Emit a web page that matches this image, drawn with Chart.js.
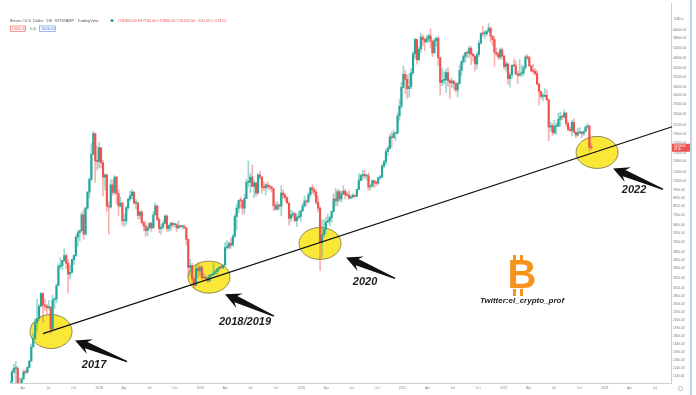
<!DOCTYPE html>
<html>
<head>
<meta charset="utf-8">
<script src="https://cdn.jsdelivr.net/npm/chart.js@4.4.0/dist/chart.umd.min.js"></script>
<style>
html, body { margin: 0; padding: 0; background: #fff; }
</style>
</head>
<body>
<canvas id="btc" width="696" height="395"></canvas>
<script>
// BTCUSD weekly candles (BITSTAMP), first candle = week of 13 Feb 2017
var firstWeekDay = 43;   // day of year 2017 of the first weekly candle
var firstOpen = 995;

var close2017 = [1050,1180,1230,1230,1020,965,1090,1180,1175,1245,1340,1580,1750,2100,2200,2540,2950,2580,2550,2500,2520,1950,2740,2770,3240,4050,4080,4350,4600,4200,3700,3780,4390,4600,5700,6000,6150,7400,5900,8000,9650,11200,15000,19100,13900,13800];
var high2017 = [1060,1210,1290,1330,1260,1100,1100,1210,1210,1260,1350,1640,1850,2200,2760,2600,2980,2990,2770,2600,2720,2540,2900,2820,3300,4180,4480,4350,4980,4700,4400,4120,4410,4650,5860,6180,6190,7600,7880,8100,9700,11400,17000,19666,19200,16500];
var low2017 = [975,1050,1160,980,950,890,920,1075,1150,1170,1240,1340,1580,1720,1900,2150,2530,2100,2430,2320,2450,1840,1930,2480,2650,3230,3930,3900,4280,3950,2970,3500,3750,4130,4550,5100,5450,6100,5560,5850,7900,9000,11000,15000,10800,12500];

var close2018 = [16200,13600,11500,11800,8200,8100,10500,9600,11500,9500,8200,8500,6900,6900,8050,8900,9250,9650,8500,8500,7350,7650,6750,6500,6150,6350,6700,6350,7400,8200,7000,6300,6400,6700,7300,6300,6500,6700,6600,6600,6350,6500,6450,6450,6350,5550,4000,4100,3500,3250,3950,3850,4000];
var high2018 = [17250,16300,14000,11900,11900,8600,11200,11100,11700,11600,9900,9100,8500,7500,8200,9000,9750,9980,9700,8880,8550,7700,7780,6900,6830,6500,6800,6800,7700,8500,8250,7150,6600,6900,7400,7400,6600,6800,6800,6700,6700,6900,6560,6550,6600,6400,5600,4400,4200,3600,4150,4250,4100];
var low2018 = [12750,12800,9200,9900,7700,5900,8000,9300,9400,8400,7300,8100,6500,6450,6600,7850,8700,8900,8350,7950,7050,7050,6650,6150,5750,5800,6250,6100,6350,7400,6900,6000,5880,6250,6650,6100,6100,6150,6400,6450,6100,6300,6380,6250,6300,5200,3600,3650,3300,3150,3230,3550,3650];

var close2019 = [3550,3530,3550,3420,3650,3670,3750,3820,3950,4000,3990,4110,5050,5070,5300,5200,5750,7250,8000,8750,8740,8000,8950,10800,10800,11500,10300,10750,9550,11800,11500,10200,10150,10500,10300,10250,10050,8250,7900,8300,8200,9550,9300,9050,8500,7100,7400,7500,6900,7200,7250,7750];
var high2019 = [4100,3750,3650,3560,3700,3700,4200,3900,3950,4070,4100,4130,5350,5480,5400,5630,5900,7450,8350,8800,9100,8800,9400,11200,13880,12000,13200,11100,10750,11950,12300,11500,10900,10650,10900,10450,10350,10100,8500,8650,8400,10400,9950,9500,9100,8500,7850,7700,7600,7500,7700,7800];
var low2019 = [3480,3500,3500,3360,3380,3550,3650,3700,3680,3850,3950,3940,4100,4950,4970,5000,5150,5700,6200,7600,8000,7450,7500,8950,10300,9600,10300,9050,9200,9400,11200,9500,9800,9350,10000,9900,9650,7750,7850,7800,7900,7300,8950,8700,8400,6550,6850,7200,6850,6450,7050,6850];

var close2020 = [8200,8700,8600,9350,10150,9900,9650,8550,8000,5350,5850,6250,6800,6900,7150,7700,8900,8700,9700,8900,9450,9750,9350,9300,9000,9100,9300,9200,9950,11050,11700,11850,11650,11700,10250,10350,11050,10750,10700,11400,11500,13050,13750,15500,16100,18400,18200,19150,19250,23500,26300,32800];
var high2020 = [8450,9200,8800,9600,10200,10500,10250,9950,9200,8150,7000,6950,7200,7450,7300,7750,9450,10050,9950,9900,9750,10400,10000,9600,9800,9350,9500,9300,10000,12000,11900,12450,12450,11800,12100,10600,11100,11050,10950,11500,11750,13350,14000,15950,16500,19000,19500,19900,19400,24300,28400,34800];
var low2020 = [7700,8100,8250,8550,9100,9500,9250,8400,7650,3850,4500,5700,5900,6750,6500,6800,7650,8200,8200,8650,8600,9300,8900,9200,8850,8950,9050,9100,9150,9950,11000,11100,11350,11100,9850,9900,10300,10150,10400,10550,11200,11400,12900,13300,14800,15900,16200,18150,17600,19000,22300,25800];

var close2021 = [38200,36000,32300,33100,38900,48600,57400,45200,51200,59000,57400,55800,58000,59800,56200,49100,56600,58200,46400,34700,35600,35800,39000,35500,34600,35300,34250,31800,34300,39900,44400,47000,49300,48800,51800,48300,47300,43100,48200,54900,61500,61300,61300,63300,65500,59700,57300,49400,48400,46700,50800,47300];
var high2021 = [42000,40100,37850,38500,40950,49700,58300,57500,52600,61700,60600,58400,60200,61200,64900,57100,58000,59000,59500,46600,40900,39400,40500,41300,36000,36600,35400,34600,35000,42500,44800,48100,49300,50500,52900,52900,48800,47300,49300,56500,62000,67000,63700,63400,69000,66300,59800,59200,51900,49500,52000,52100];
var low2021 = [32500,30400,28800,29300,32300,37900,46000,43000,45000,49300,53300,50400,55500,55500,52000,47000,48800,52900,42200,30000,33400,34000,31000,33300,28800,32700,32100,31000,29300,34200,37500,43000,43900,46300,46500,42800,44700,39600,40800,46900,54400,59600,58000,60000,62300,55600,53500,42000,47300,45500,45600,45700];

var close2022 = [41800,43100,36300,37900,42400,42200,38400,37700,38400,38800,41300,46800,46400,42200,39700,39500,38500,34100,31300,29500,29500,29900,28400,20600,21000,19300,20800,20800,22600,23300,23200,24300,21500,20000,19800,21800,19400,18800,19300,19400,19100,19600,20600,20900,16300,16200];
var high2022 = [47600,44500,43500,38900,42600,45800,44800,39500,45400,42600,42300,47700,48200,47200,42400,42900,40800,40000,34300,31300,30600,32300,31700,28400,21800,21500,22400,21600,24300,24600,23600,25200,24400,21900,20600,22300,22700,19700,20400,20500,19600,19700,21000,21500,21000,17100];
var low2022 = [40500,39700,34000,32900,36300,41600,38000,34300,37500,37100,37600,40500,45200,41900,39200,38600,37700,33700,26700,28700,28000,29300,28000,17600,19700,18800,19000,18900,20800,20800,22400,22900,20800,19800,19500,18600,19300,18200,18500,19100,18200,18700,19500,20100,15600,15900];

// price scale labels (right axis)
var priceTicks = [64000,58000,52000,46000,41000,37000,33000,30000,27000,24000,21000,19000,17000,15300,13800,12200,10950,9900,8950,8150,7350,6600,5950,5350,4800,4350,3950,3550,3150,2850,2600,2370,2160,1970,1800,1640,1490,1360,1240,1130];
var quarterNames = ['Jan','Apr','Jul','Oct'];
var quarterDays = [0,90,181,273];
var tickYears = [2017,2018,2019,2020,2021,2022,2023];

// trend line and the marked touches
var trendDates = [2017.444, 2023.666];
var trendPrices = [1850, 20700];
var touchLabels = ['2017','2018/2019','2020','2022'];
var touchDates = [2017.524, 2019.086, 2020.184, 2022.924];
var touchPrices = [1893, 3574, 5296, 15337];

// view range
var xMin = 2017.118, xMax = 2023.655;
var priceMin = 1038, priceMax = 86900;

var closes = close2017.concat(close2018, close2019, close2020, close2021, close2022);
var highs = high2017.concat(high2018, high2019, high2020, high2021, high2022);
var lows = low2017.concat(low2018, low2019, low2020, low2021, low2022);
var opens = closes.map(function (c, i) { return i ? closes[i - 1] : firstOpen; });
var xs = closes.map(function (c, i) { return 2017 + (firstWeekDay + 7 * i) / 365.25; });

var UP = '#26a69a', DOWN = '#ef5350';
var isUp = closes.map(function (c, i) { return c >= opens[i]; });

var qTicks = [];
tickYears.forEach(function (yr) {
  quarterNames.forEach(function (q, k) {
    var v = yr + quarterDays[k] / 365.25;
    if (v > xMin && v < xMax) qTicks.push({ value: v, label: k === 0 ? String(yr) : q });
  });
});

var last = closes.length - 1;
var chg = closes[last] - opens[last];

// annotation layout (pixels relative to each circle centre)
var arrowLayout = [
  { rx: 21, ry: 17, tip: [24, 9], tail: [76, 30], text: [43, 33] },
  { rx: 21, ry: 16, tip: [16, 17], tail: [65, 39], text: [36, 45] },
  { rx: 21, ry: 16, tip: [26, 14], tail: [75, 35], text: [45, 39] },
  { rx: 21, ry: 16, tip: [16, 16], tail: [66, 37], text: [37, 38] }
];

function drawArrow(ctx, tx, ty, ex, ey) {
  var dx = ex - tx, dy = ey - ty, len = Math.sqrt(dx * dx + dy * dy);
  var ux = dx / len, uy = dy / len, nx = -uy, ny = ux;
  var hl = 16, hw = 8, sw = 3.4, tw = 0.7;
  var bx = tx + ux * hl, by = ty + uy * hl;
  var cx = tx + ux * (hl - 4), cy = ty + uy * (hl - 4);
  ctx.beginPath();
  ctx.moveTo(tx, ty);
  ctx.lineTo(bx + nx * hw, by + ny * hw);
  ctx.lineTo(cx + nx * sw, cy + ny * sw);
  ctx.lineTo(ex + nx * tw, ey + ny * tw);
  ctx.lineTo(ex - nx * tw, ey - ny * tw);
  ctx.lineTo(cx - nx * sw, cy - ny * sw);
  ctx.lineTo(bx - nx * hw, by - ny * hw);
  ctx.closePath();
  ctx.fill();
}

var decor = {
  id: 'decor',
  beforeDatasetsDraw: function (chart) {
    var ctx = chart.ctx, sx = chart.scales.x, sy = chart.scales.y;
    ctx.save();
    touchDates.forEach(function (d, i) {
      var cx = sx.getPixelForValue(d), cy = sy.getPixelForValue(touchPrices[i]);
      var L = arrowLayout[i];
      ctx.beginPath();
      ctx.ellipse(cx, cy, L.rx, L.ry, 0, 0, Math.PI * 2);
      ctx.fillStyle = 'rgba(250,230,40,0.92)';
      ctx.fill();
      ctx.lineWidth = 1;
      ctx.strokeStyle = '#8f8a55';
      ctx.stroke();
    });
    ctx.restore();
  },
  afterDraw: function (chart) {
    var ctx = chart.ctx, sx = chart.scales.x, sy = chart.scales.y, a = chart.chartArea;
    ctx.save();

    // arrows and year labels
    ctx.fillStyle = '#111';
    touchDates.forEach(function (d, i) {
      var cx = sx.getPixelForValue(d), cy = sy.getPixelForValue(touchPrices[i]);
      var L = arrowLayout[i];
      drawArrow(ctx, cx + L.tip[0], cy + L.tip[1], cx + L.tail[0], cy + L.tail[1]);
    });
    ctx.fillStyle = '#222';
    ctx.font = 'italic bold 11px "Liberation Sans", Arial, sans-serif';
    ctx.textAlign = 'center';
    ctx.textBaseline = 'middle';
    touchDates.forEach(function (d, i) {
      var cx = sx.getPixelForValue(d), cy = sy.getPixelForValue(touchPrices[i]);
      var L = arrowLayout[i];
      ctx.fillText(touchLabels[i], cx + L.text[0], cy + L.text[1]);
    });

    // bitcoin logo + handle
    ctx.fillStyle = '#f7931a';
    ctx.font = 'bold 40px "Liberation Sans", Arial, sans-serif';
    ctx.fillText('B', 522, 277);
    ctx.fillRect(513, 255, 3, 8);
    ctx.fillRect(520, 255, 3, 8);
    ctx.fillRect(513, 289, 3, 7);
    ctx.fillRect(520, 289, 3, 7);
    ctx.fillStyle = '#222';
    ctx.font = 'italic bold 8px "Liberation Sans", Arial, sans-serif';
    ctx.fillText('Twitter:el_crypto_prof', 522, 301);

    // header legend
    ctx.textAlign = 'left';
    ctx.font = '3.8px "Liberation Sans", Arial, sans-serif';
    ctx.fillStyle = '#555';
    ctx.fillText('Bitcoin / U.S. Dollar \u00b7 1W \u00b7 BITSTAMP \u00b7 TradingView', 10, 20.5);
    ctx.beginPath();
    ctx.arc(112, 20.5, 1.6, 0, Math.PI * 2);
    ctx.fillStyle = UP;
    ctx.fill();
    ctx.fillStyle = chg >= 0 ? UP : DOWN;
    ctx.fillText('O' + opens[last].toFixed(2) + ' H' + highs[last].toFixed(2) + ' L' + lows[last].toFixed(2) +
      ' C' + closes[last].toFixed(2) + ' ' + (chg >= 0 ? '+' : '\u2212') + Math.abs(chg).toFixed(2) +
      ' (' + (chg >= 0 ? '+' : '\u2212') + Math.abs(chg / opens[last] * 100).toFixed(2) + '%)', 118, 20.5);
    ctx.lineWidth = 0.6;
    ctx.strokeStyle = DOWN;
    ctx.strokeRect(10.5, 26, 15, 5.5);
    ctx.fillStyle = DOWN;
    ctx.font = '3.3px "Liberation Sans", Arial, sans-serif';
    ctx.fillText(closes[last].toFixed(2), 11.8, 28.9);
    ctx.fillStyle = '#777';
    ctx.fillText('0.00', 30, 28.9);
    ctx.strokeStyle = '#5b8def';
    ctx.strokeRect(39.5, 26, 16, 5.5);
    ctx.fillStyle = '#3d6fd8';
    ctx.fillText(closes[last].toFixed(2), 41.2, 28.9);

    // price scale extras
    ctx.fillStyle = '#666';
    ctx.fillText('USD \u25be', 674, 19);
    var py = sy.getPixelForValue(closes[last]);
    ctx.fillStyle = DOWN;
    ctx.fillRect(672, py - 4, 18, 8);
    ctx.fillStyle = '#fff';
    ctx.font = '2.8px "Liberation Sans", Arial, sans-serif';
    ctx.fillText(closes[last].toFixed(2), 674, py - 1.6);
    ctx.fillText('2d 4h', 674, py + 1.8);

    ctx.strokeStyle = '#a9c2f2';
    ctx.lineWidth = 1.5;
    ctx.beginPath();
    ctx.moveTo(691, 0);
    ctx.lineTo(691, 395);
    ctx.stroke();

    ctx.strokeStyle = '#999';
    ctx.lineWidth = 0.6;
    ctx.beginPath();
    ctx.arc(680.5, 388.5, 2.2, 0, Math.PI * 2);
    ctx.stroke();
    ctx.restore();
  }
};

new Chart(document.getElementById('btc').getContext('2d'), {
  type: 'bar',
  data: {
    datasets: [
      {
        type: 'line',
        data: trendDates.map(function (d, i) { return { x: d, y: trendPrices[i] }; }),
        borderColor: '#111',
        borderWidth: 1.3,
        pointRadius: 0,
        clip: false,
        order: 0
      },
      {
        data: xs.map(function (x, i) { return { x: x, y: [opens[i], closes[i]] }; }),
        backgroundColor: isUp.map(function (u) { return u ? UP : DOWN; }),
        barThickness: 1.5,
        minBarLength: 1,
        grouped: false,
        order: 1
      },
      {
        data: xs.map(function (x, i) { return { x: x, y: [lows[i], highs[i]] }; }),
        backgroundColor: isUp.map(function (u) { return u ? 'rgba(38,166,154,0.45)' : 'rgba(239,83,80,0.45)'; }),
        barThickness: 1,
        grouped: false,
        order: 2
      }
    ]
  },
  options: {
    responsive: false,
    animation: false,
    devicePixelRatio: 1,
    layout: { padding: { left: 10, top: 0, right: 0, bottom: 0 } },
    plugins: { legend: { display: false }, tooltip: { enabled: false } },
    scales: {
      x: {
        type: 'linear',
        min: xMin,
        max: xMax,
        offset: false,
        grid: { display: false, drawTicks: false },
        border: { display: true, color: '#cfcfcf' },
        afterBuildTicks: function (s) { s.ticks = qTicks.map(function (t) { return { value: t.value }; }); },
        afterFit: function (s) { s.height = 12; },
        ticks: {
          autoSkip: false,
          maxRotation: 0,
          padding: 3,
          color: '#888',
          font: { size: 3.3, family: '"Liberation Sans", Arial, sans-serif' },
          callback: function (v, i) { return qTicks[i] ? qTicks[i].label : ''; }
        }
      },
      y: {
        type: 'logarithmic',
        position: 'right',
        min: priceMin,
        max: priceMax,
        grid: { display: false, drawTicks: false },
        border: { display: true, color: '#cfcfcf' },
        afterBuildTicks: function (s) { s.ticks = priceTicks.map(function (v) { return { value: v }; }); },
        afterFit: function (s) { s.width = 25; },
        ticks: {
          autoSkip: false,
          padding: 2,
          color: '#777',
          font: { size: 3.2, family: '"Liberation Sans", Arial, sans-serif' },
          callback: function (v) { return Number(v).toFixed(2); }
        }
      }
    }
  },
  plugins: [decor]
});
</script>
</body>
</html>
